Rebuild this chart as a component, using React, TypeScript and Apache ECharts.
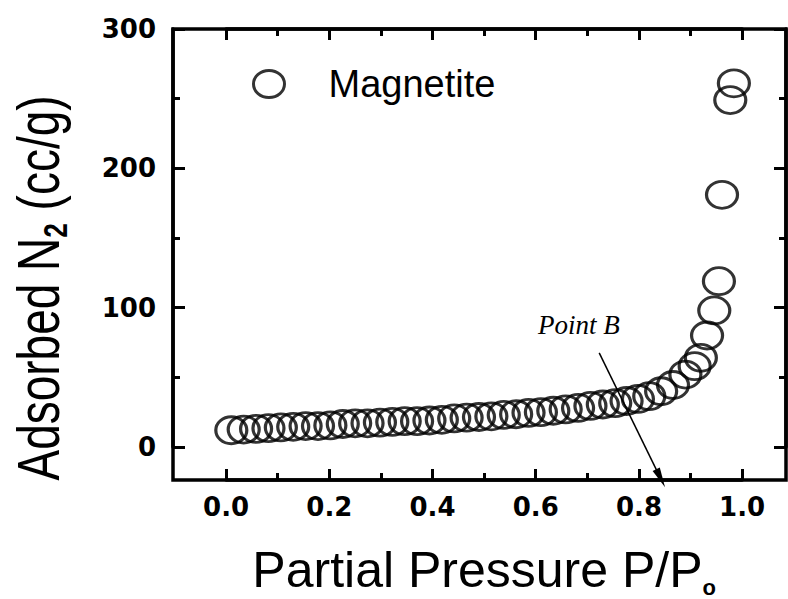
import React, { useEffect, useRef } from 'react';
import * as echarts from 'echarts';

// ---- data ----
const seriesName = 'Magnetite';
const pressure = [
  0.010, 0.034, 0.058, 0.082, 0.106, 0.130, 0.154, 0.178, 0.202, 0.226,
  0.250, 0.274, 0.298, 0.322, 0.346, 0.370, 0.394, 0.418, 0.442, 0.466,
  0.490, 0.514, 0.538, 0.562, 0.586, 0.610, 0.634, 0.658, 0.682, 0.706,
  0.730, 0.754, 0.776, 0.798, 0.820, 0.843, 0.866, 0.890, 0.908, 0.920,
  0.932, 0.946, 0.955, 0.961, 0.977, 0.984,
];
const adsorbed = [
  12, 12.5, 13, 13.5, 14, 14.5, 15, 15, 15.5, 16.5,
  17, 17, 17.5, 18, 18.5, 18.5, 19, 19.5, 20.5, 21,
  21.5, 22, 23, 23.5, 24.5, 25, 26, 27, 28, 29.5,
  30.5, 31.5, 33, 34.5, 36.5, 40, 44.5, 52, 58, 64,
  80, 98, 119, 181, 249, 261,
];
const xTitle = 'Partial Pressure P/P';
const xTitleSub = 'o';
const yTitleMain = 'Adsorbed N';
const yTitleSub = '2';
const yTitleTail = ' (cc/g)';
const annotationText = 'Point B';
const arrowStart = [0.723, 67.5];
const arrowEnd = [0.842, -22.5];

// ---- layout ----
const L = 173, T = 29, W = 613, H = 451;
const X_MIN = -0.103, X_MAX = 1.085;
const Y_MIN = -23.7, Y_MAX = 300;
const xPix = (v: number) => L + ((v - X_MIN) / (X_MAX - X_MIN)) * W;
const CIRCLE = 'path://M10,0C15.52,0,20,4.48,20,10C20,15.52,15.52,20,10,20C4.48,20,0,15.52,0,10C0,4.48,4.48,0,10,0Z';

const frameLine = { show: true, onZero: false, lineStyle: { color: '#000', width: 3.5 } };
const labelFont = { color: '#000', fontFamily: 'DejaVu Sans', fontWeight: 'bold' as const, fontSize: 26 };

export default function App() {
  const ref = useRef<HTMLDivElement>(null);
  useEffect(() => {
    if (!ref.current) return;
    const chart = echarts.init(ref.current, null, { renderer: 'svg' });
    const tickGridLeft = xPix(0);
    const tickGridWidth = xPix(1) - xPix(0);
    const yTickGridHeight = ((Y_MAX - 0) / (Y_MAX - Y_MIN)) * H;

    const xTicks = (pos: 'top' | 'bottom', labels: boolean) => ({
      gridIndex: 1, type: 'value', min: 0, max: 1, interval: 0.2, position: pos,
      axisLine: frameLine,
      axisTick: { show: true, inside: true, length: 11, lineStyle: { color: '#000', width: 3 } },
      minorTick: { show: true, splitNumber: 2, length: 7, lineStyle: { color: '#000', width: 3 } },
      splitLine: { show: false },
      axisLabel: labels
        ? { show: true, margin: 14, formatter: (v: number) => v.toFixed(1), ...labelFont }
        : { show: false },
    });
    const yTicks = (pos: 'left' | 'right', labels: boolean) => ({
      gridIndex: 2, type: 'value', min: 0, max: 300, interval: 100, position: pos,
      axisLine: frameLine,
      axisTick: { show: true, inside: true, length: 12, lineStyle: { color: '#000', width: 3 } },
      minorTick: { show: true, splitNumber: 2, length: 7, lineStyle: { color: '#000', width: 3 } },
      splitLine: { show: false },
      axisLabel: labels ? { show: true, margin: 17, ...labelFont } : { show: false },
    });
    const hidden = (gridIndex: number, min: number, max: number) => ({
      gridIndex, type: 'value', min, max, show: false,
    });

    const xBottom: any = xTicks('bottom', true);
    xBottom.name = `{m|${xTitle}}{s|${xTitleSub}}`;
    xBottom.nameLocation = 'middle';
    xBottom.nameGap = 62;
    xBottom.nameMoveOverlap = false;
    xBottom.nameTextStyle = {
      rich: {
        m: { fontSize: 50, fontFamily: 'Liberation Sans', color: '#000', lineHeight: 56 },
        s: { fontSize: 22, fontFamily: 'Liberation Sans', fontWeight: 'bold', color: '#000', verticalAlign: 'bottom', lineHeight: 16 },
      },
    };

    chart.setOption({
      animation: false,
      backgroundColor: '#fff',
      grid: [
        { left: L, top: T, width: W, height: H, show: true, borderColor: '#000', borderWidth: 3.5, backgroundColor: 'transparent', outerBoundsMode: 'none' },
        { left: tickGridLeft, top: T, width: tickGridWidth, height: H, outerBoundsMode: 'none' },
        { left: L, top: T, width: W, height: yTickGridHeight, outerBoundsMode: 'none' },
      ],
      xAxis: [
        hidden(0, X_MIN, X_MAX),
        xBottom,
        xTicks('top', false),
        hidden(2, X_MIN, X_MAX),
      ],
      yAxis: [
        hidden(0, Y_MIN, Y_MAX),
        hidden(1, Y_MIN, Y_MAX),
        yTicks('left', true),
        yTicks('right', false),
      ],
      legend: {
        left: 247, top: 60, itemWidth: 31, itemHeight: 27, icon: CIRCLE, symbolKeepAspect: false,
        selectedMode: false,
        itemStyle: { color: 'rgba(255,255,255,0)', borderColor: '#000', borderWidth: 3 },
        textStyle: { fontFamily: 'Liberation Sans', fontSize: 38, color: '#000', padding: [0, 0, 0, 39], lineHeight: 38 },
        data: [seriesName],
      },
      series: [
        {
          type: 'scatter', name: seriesName, xAxisIndex: 0, yAxisIndex: 0,
          data: pressure.map((p, i) => [p, adsorbed[i]]),
          symbol: CIRCLE, symbolSize: [31, 27],
          itemStyle: { color: 'rgba(255,255,255,0)', borderColor: '#000', borderWidth: 3 },
          clip: false, silent: true,
          markLine: {
            silent: true, animation: false,
            symbol: ['none', 'triangle'],
            lineStyle: { color: '#000', width: 1.5, type: 'solid' },
            label: { show: false },
            emphasis: { disabled: true },
            data: [[
              { coord: arrowStart, symbol: 'none' },
              { coord: arrowEnd, symbol: 'triangle', symbolSize: [8, 20] },
            ]],
          },
        },
      ],
      graphic: [
        {
          type: 'text', x: 38, y: 288, rotation: Math.PI / 2, scaleY: 1.3,
          style: {
            text: `{m|${yTitleMain}}{s|${yTitleSub}}{m|${yTitleTail}}`,
            rich: {
              m: { fontSize: 46, fontFamily: 'Liberation Sans', fill: '#000', lineHeight: 52 },
              s: { fontSize: 26, fontFamily: 'Liberation Sans', fontWeight: 'bold', fill: '#000', verticalAlign: 'bottom', lineHeight: 18 },
            },
            align: 'center', verticalAlign: 'middle',
          },
        },
        {
          type: 'text', x: 538, y: 325,
          style: { text: annotationText, font: 'italic 27px "Liberation Serif"', fill: '#000', verticalAlign: 'middle' },
        },
      ],
    });
    return () => chart.dispose();
  }, []);
  return <div ref={ref} style={{ position: 'absolute', left: 0, top: 0, width: 788, height: 599, background: '#fff' }} />;
}
